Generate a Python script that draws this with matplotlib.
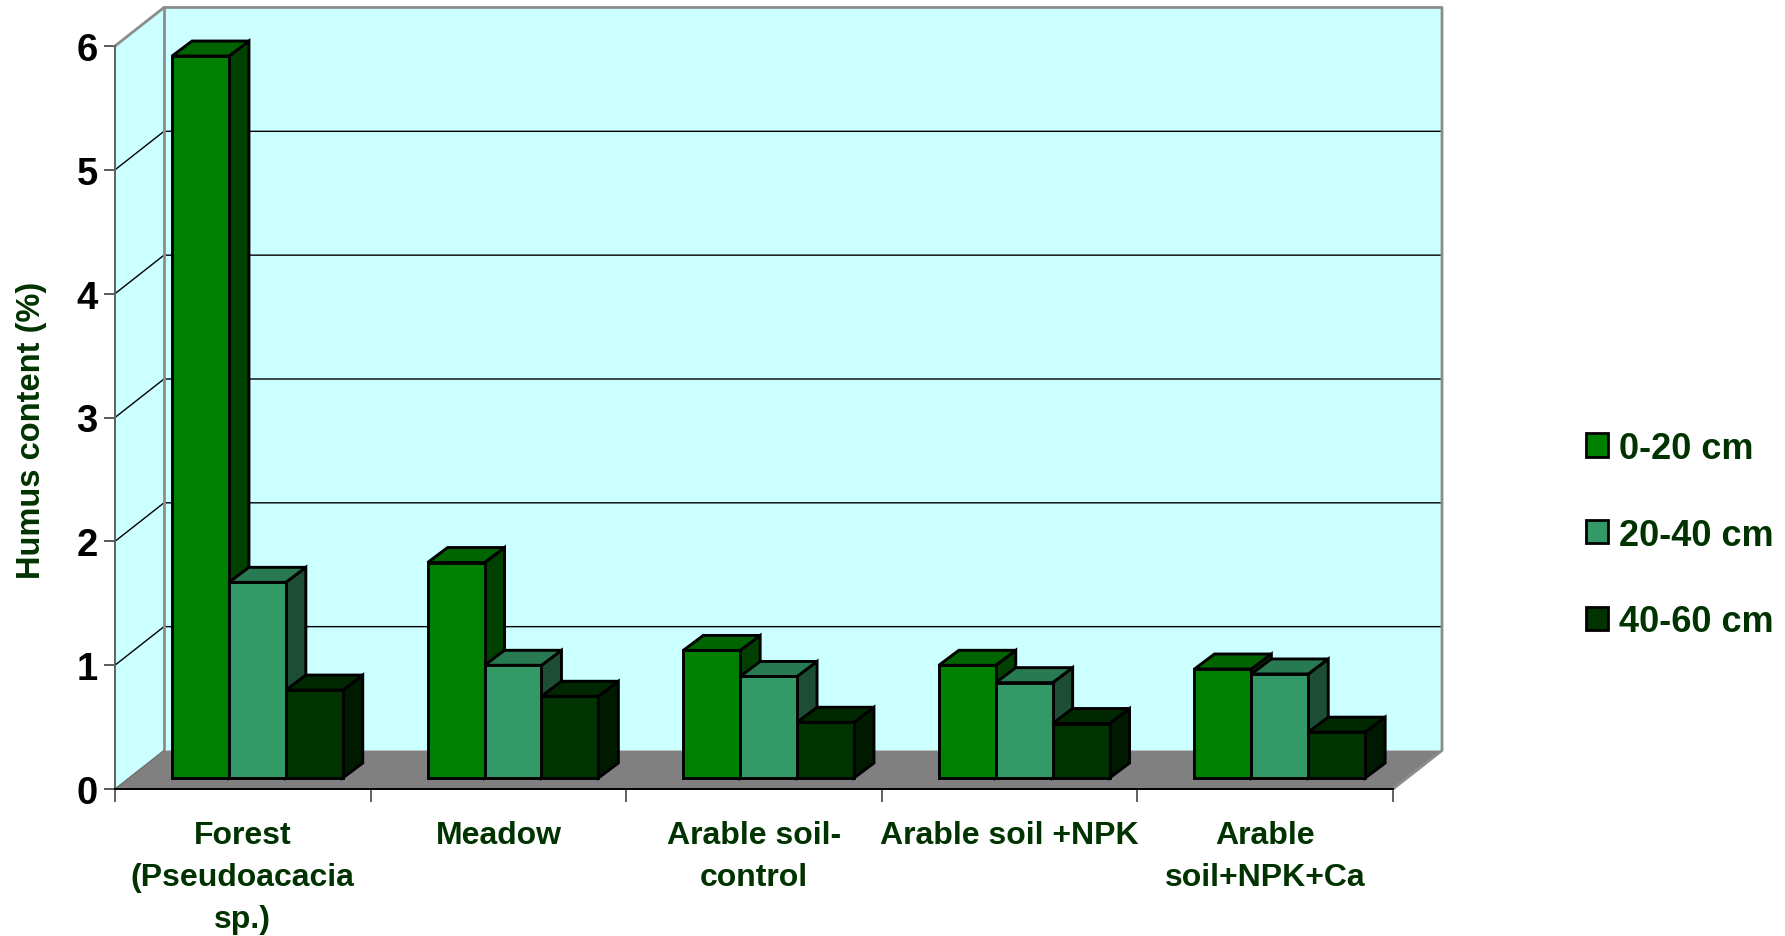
import numpy as np
import matplotlib
matplotlib.use("Agg")
import matplotlib.pyplot as plt
from matplotlib.patches import Patch

plt.rcParams['font.family'] = ['Liberation Sans', 'DejaVu Sans']
plt.rcParams['font.weight'] = 'bold'

categories = ["Forest\n(Pseudoacacia\nsp.)", "Meadow", "Arable soil-\ncontrol",
              "Arable soil +NPK", "Arable\nsoil+NPK+Ca"]
series_names = ["0-20 cm", "20-40 cm", "40-60 cm"]
depth_0_20 = [5.83, 1.74, 1.03, 0.91, 0.88]
depth_20_40 = [1.58, 0.91, 0.82, 0.77, 0.84]
depth_40_60 = [0.71, 0.66, 0.45, 0.44, 0.37]
yticks = [0, 1, 2, 3, 4, 5, 6]

front_cols = ['#008000', '#339966', '#003300']
top_cols = ['#006400', '#287A52', '#002800']
side_cols = ['#004000', '#1E4D36', '#001A00']
text_col = '#003300'
wall_col = '#CCFFFF'
floor_col = '#808080'

fig = plt.figure(figsize=(17.85, 9.37), dpi=100)
ax = fig.add_axes([115/1785, (937-790)/937, 1278/1785, 743/937])
ax.set_xlim(0, 5)
ax.set_ylim(0, 6)
ax.patch.set_visible(False)

# how far the back wall is shifted, in axis units
wall_dx = 49/255.6
wall_dy = 38.5/123.8
# bars sit part way into the floor
bar_dx = 14.6/255.6
bar_dy = 11/123.8
depth_dx = 20/255.6
depth_dy = 15/123.8
bar_w = 56.9/255.6
gap = (1 - 3*bar_w)/2

# walls and floor
ax.fill([0, wall_dx, wall_dx, 0], [0, wall_dy, 6+wall_dy, 6], fc=wall_col, ec='none', clip_on=False, zorder=1)
ax.fill([wall_dx, 5+wall_dx, 5+wall_dx, wall_dx], [wall_dy, wall_dy, 6+wall_dy, 6+wall_dy],
        fc=wall_col, ec='none', clip_on=False, zorder=1)
ax.fill([0, wall_dx, 5+wall_dx, 5], [0, wall_dy, wall_dy, 0], fc=floor_col, ec='none', clip_on=False, zorder=1)

# grid lines run along the side wall then the back wall
for v in yticks[1:-1]:
    ax.plot([0, wall_dx, 5+wall_dx], [v, v+wall_dy, v+wall_dy], color='black', lw=1.0, clip_on=False, zorder=2)

# wall outline
ax.plot([0, wall_dx, 5+wall_dx, 5+wall_dx, 5], [6, 6+wall_dy, 6+wall_dy, wall_dy, 0],
        color='#8C8C8C', lw=2, clip_on=False, zorder=2)
ax.plot([wall_dx, wall_dx], [6+wall_dy, wall_dy], color='#8C8C8C', lw=2, clip_on=False, zorder=2)
ax.plot([wall_dx, 0], [wall_dy, 0], color='#707070', lw=1, clip_on=False, zorder=2)

all_series = [depth_0_20, depth_20_40, depth_40_60]
z = 3
for i in range(len(categories)):
    for s in range(3):
        v = all_series[s][i]
        x0 = i + gap + bar_dx + s*bar_w
        x1 = x0 + bar_w
        y0 = bar_dy
        y1 = bar_dy + v
        ax.fill([x1, x1+depth_dx, x1+depth_dx, x1], [y0, y0+depth_dy, y1+depth_dy, y1],
                fc=side_cols[s], ec='black', lw=2.1, clip_on=False, zorder=z)
        ax.fill([x0, x0+depth_dx, x1+depth_dx, x1], [y1, y1+depth_dy, y1+depth_dy, y1],
                fc=top_cols[s], ec='black', lw=2.1, clip_on=False, zorder=z)
        ax.bar(x0, v, width=bar_w, bottom=y0, align='edge', color=front_cols[s],
               edgecolor='black', lw=2.1, clip_on=False, zorder=z)
        z += 1

# axes
for name in ['top', 'right']:
    ax.spines[name].set_visible(False)
ax.spines['left'].set_color('#606060')
ax.spines['left'].set_linewidth(1.4)
ax.spines['bottom'].set_color('black')
ax.spines['bottom'].set_linewidth(1.4)

ax.set_yticks(yticks)
ax.set_yticklabels([str(t) for t in yticks], fontsize=27.5, fontweight='bold', color='black')
ax.tick_params(axis='y', length=8, width=1.2, color='#404040', pad=4.5)
ax.set_xticks(np.arange(0, 6))
ax.set_xticklabels([])
ax.tick_params(axis='x', which='major', length=9.5, width=1.4, color='#606060')
ax.set_xticks(np.arange(len(categories)) + 0.5, minor=True)
ax.set_xticklabels(categories, minor=True, fontsize=23, fontweight='bold', color=text_col,
                   linespacing=1.52, ha='center', va='top')
ax.tick_params(axis='x', which='minor', length=0, pad=22.5)

ax.set_ylabel("Humus content (%)", fontsize=23.5, fontweight='bold', color=text_col)
ax.yaxis.set_label_coords(-0.053, 0.4845)

handles = [Patch(facecolor=front_cols[k], edgecolor='black', lw=2) for k in range(3)]
fig.legend(handles, series_names, loc='center left', bbox_to_anchor=(1585.5/1785, (937-536)/937),
           frameon=False, fontsize=26, labelcolor=text_col,
           handlelength=0.62, handleheight=0.62, handletextpad=0.3, labelspacing=1.43, borderpad=0,
           borderaxespad=0)

fig.savefig("out.png", dpi=100)
